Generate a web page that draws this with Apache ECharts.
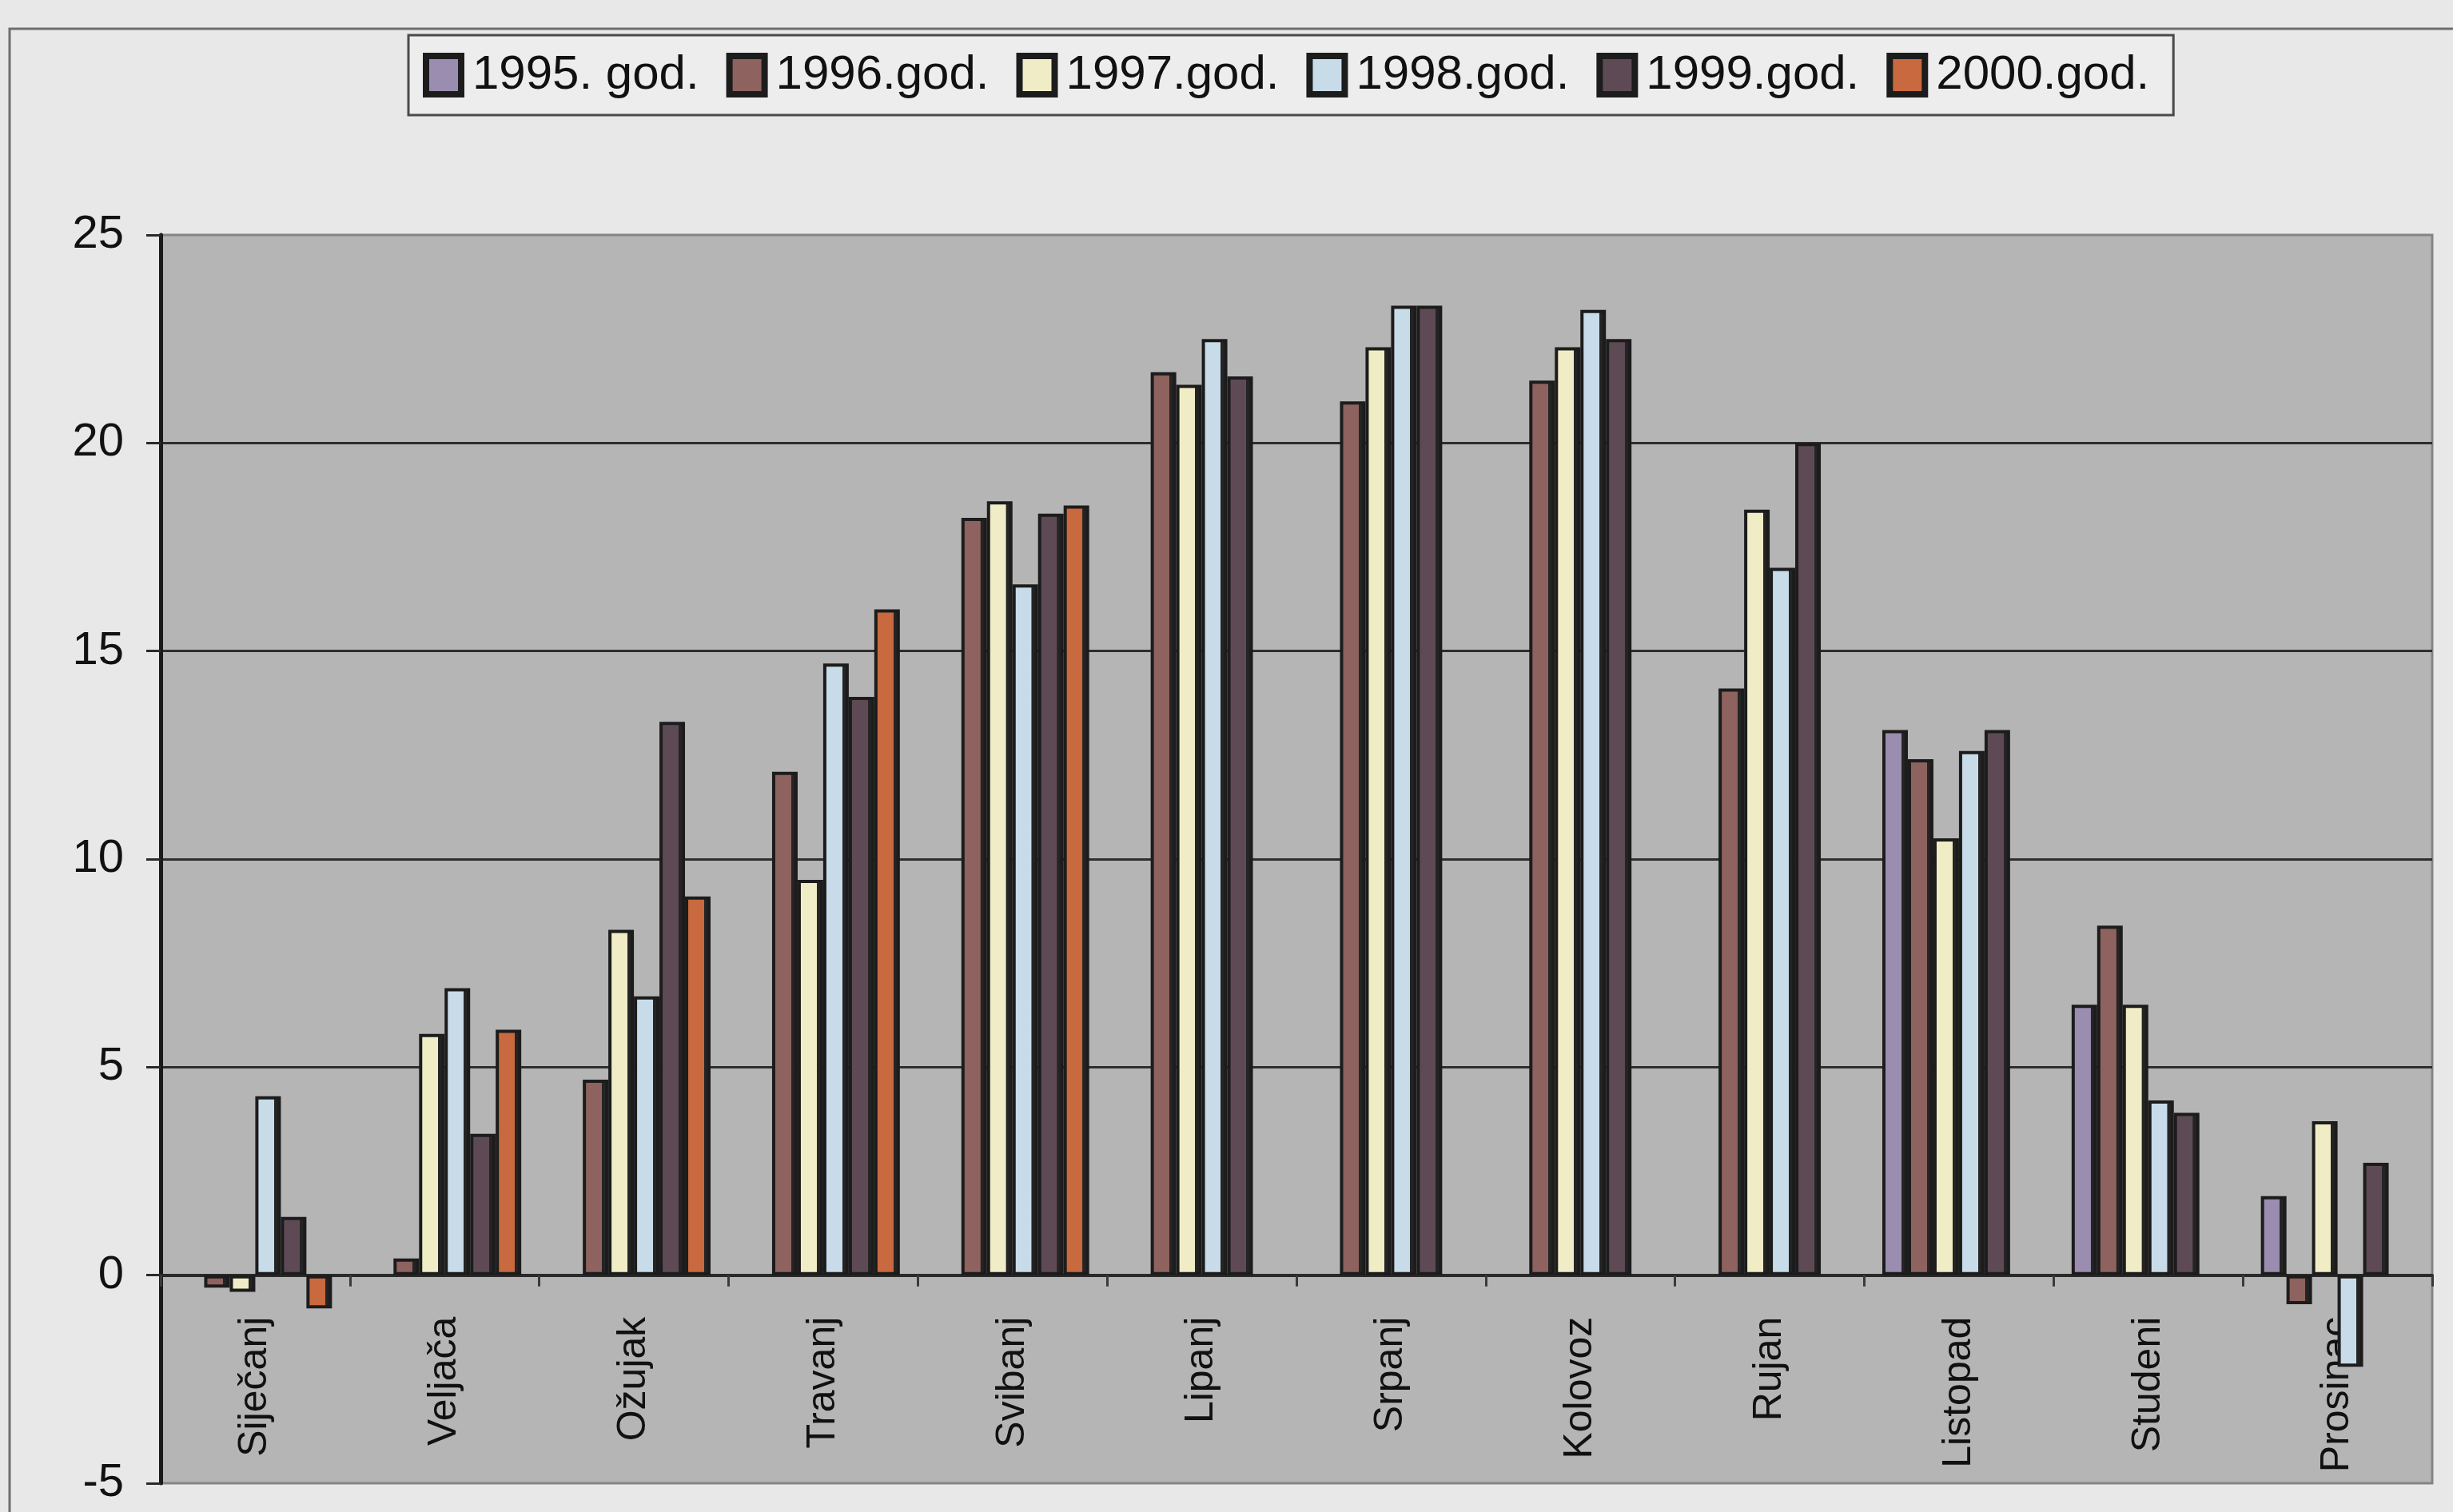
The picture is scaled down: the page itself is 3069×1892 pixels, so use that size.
<!DOCTYPE html>
<html>
<head>
<meta charset="utf-8">
<title>Mjesečne vrijednosti 1995.–2000.</title>
<script src="https://cdn.jsdelivr.net/npm/echarts@6/dist/echarts.min.js"></script>
<style>
  html, body { margin: 0; padding: 0; background: #e8e8e8; }
  #chart { width: 3069px; height: 1892px; }
</style>
</head>
<body>
<div id="chart"></div>
<script>
// Months (Croatian names) on the category axis
const categories = ['Siječanj', 'Veljača', 'Ožujak', 'Travanj', 'Svibanj', 'Lipanj',
                    'Srpanj', 'Kolovoz', 'Rujan', 'Listopad', 'Studeni', 'Prosinac'];

// Monthly values per year (null = no data for that month)
const y1995 = [null, null, null, null, null, null, null, null, null, 13.1, 6.5, 1.9];
const y1996 = [-0.3, 0.4, 4.7, 12.1, 18.2, 21.7, 21.0, 21.5, 14.1, 12.4, 8.4, -0.7];
const y1997 = [-0.4, 5.8, 8.3, 9.5, 18.6, 21.4, 22.3, 22.3, 18.4, 10.5, 6.5, 3.7];
const y1998 = [4.3, 6.9, 6.7, 14.7, 16.6, 22.5, 23.3, 23.2, 17.0, 12.6, 4.2, -2.2];
const y1999 = [1.4, 3.4, 13.3, 13.9, 18.3, 21.6, 23.3, 22.5, 20.0, 13.1, 3.9, 2.7];
const y2000 = [-0.8, 5.9, 9.1, 16.0, 18.5, null, null, null, null, null, null, null];

const seriesNames = ['1995. god.', '1996.god.', '1997.god.', '1998.god.', '1999.god.', '2000.god.'];
const seriesData = [y1995, y1996, y1997, y1998, y1999, y2000];
const seriesColors = ['#9a8db0', '#8e625e', '#f0ecc6', '#c8dbe9', '#5e4a55', '#c8693f'];

// Value axis ticks
const yMin = -5, yMax = 25, yStep = 5;

const FONT = 'Liberation Sans, Arial, Helvetica, sans-serif';
const EDGE = '#1c1c1c';

// Plot box
const W = 3069, H = 1892;
const GRID = { left: 201, right: 26, top: 294, bottom: 36 };
const plotH = H - GRID.top - GRID.bottom;
// Category axis sits on the zero line: shift it up from the bottom edge
const zeroOffset = -plotH * (0 - yMin) / (yMax - yMin);

// Face colour on the left, darker side face on the right (pseudo-3D column)
function columnFill(c) {
  return {
    type: 'linear', x: 0, y: 0, x2: 1, y2: 0,
    colorStops: [
      { offset: 0, color: c },
      { offset: 0.74, color: c },
      { offset: 0.745, color: '#242424' },
      { offset: 1, color: '#242424' }
    ]
  };
}

const chart = echarts.init(document.getElementById('chart'), null, { renderer: 'canvas' });

const option = {
  backgroundColor: '#e8e8e8',
  animation: false,
  textStyle: { fontFamily: FONT },
  graphic: [{
    type: 'rect',
    z: -10,
    silent: true,
    shape: { x: 12, y: 36, width: 3200, height: 2000 },
    style: { fill: 'none', stroke: '#6e6e6e', lineWidth: 3 }
  }],
  legend: {
    left: 511,
    top: 44,
    orient: 'horizontal',
    padding: [20, 30, 20, 18],
    itemGap: 34,
    itemWidth: 44,
    itemHeight: 48,
    backgroundColor: '#ededed',
    borderColor: '#4a4a4a',
    borderWidth: 3,
    borderRadius: 0,
    selectedMode: false,
    textStyle: { fontSize: 60, color: '#111', fontFamily: FONT, padding: [0, 0, 0, 9] },
    data: seriesNames.map((n, i) => ({
      name: n,
      icon: 'rect',
      itemStyle: { color: seriesColors[i], borderColor: EDGE, borderWidth: 8 }
    }))
  },
  grid: {
    left: GRID.left,
    right: GRID.right,
    top: GRID.top,
    bottom: GRID.bottom,
    outerBoundsMode: 'none',
    containLabel: false,
    show: true,
    backgroundColor: '#b5b5b5',
    borderColor: '#858585',
    borderWidth: 3
  },
  xAxis: {
    type: 'category',
    data: categories,
    position: 'bottom',
    offset: zeroOffset,
    axisLine: { show: true, onZero: false, lineStyle: { color: '#2a2a2a', width: 4 } },
    axisTick: { show: true, alignWithLabel: false, length: 14, lineStyle: { color: '#3a3a3a', width: 3 } },
    axisLabel: {
      show: true,
      interval: 0,
      rotate: 90,
      margin: 52,
      fontSize: 50,
      color: '#111',
      fontFamily: FONT
    },
    splitLine: { show: false }
  },
  yAxis: {
    type: 'value',
    min: yMin,
    max: yMax,
    interval: yStep,
    axisLine: { show: true, lineStyle: { color: '#1a1a1a', width: 5 } },
    axisTick: { show: true, inside: false, length: 18, lineStyle: { color: '#2a2a2a', width: 3 } },
    axisLabel: { fontSize: 58, color: '#111', margin: 46, fontFamily: FONT },
    splitLine: {
      show: true,
      showMinLine: false,
      showMaxLine: false,
      lineStyle: { color: '#2e2e2e', width: 3 }
    }
  },
  series: seriesNames.map((n, i) => ({
    name: n,
    type: 'bar',
    data: seriesData[i],
    barGap: '0%',
    barCategoryGap: '19%',
    itemStyle: {
      color: columnFill(seriesColors[i]),
      borderColor: EDGE,
      borderWidth: 4
    },
    emphasis: { disabled: true }
  }))
};

chart.setOption(option);
</script>
</body>
</html>
